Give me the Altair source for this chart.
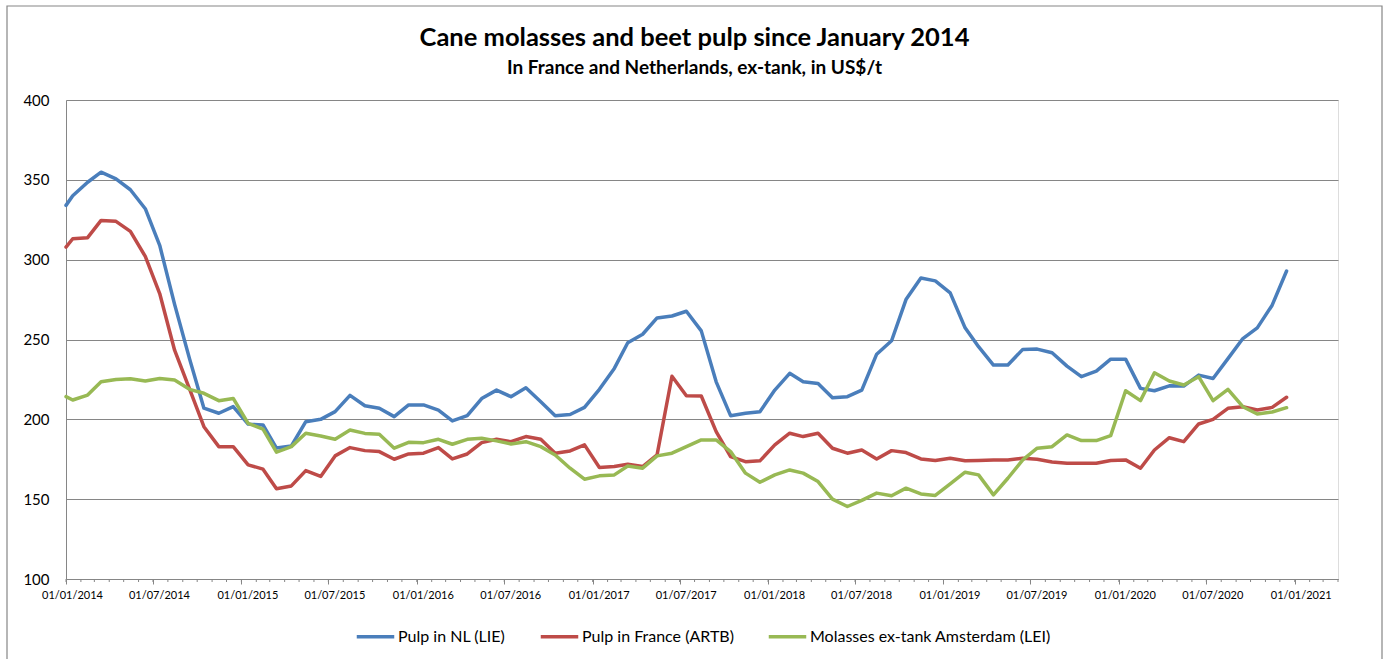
import altair as alt
import pandas as pd

# ---- data ----
series_names = ["Pulp in NL (LIE)", "Pulp in France (ARTB)", "Molasses ex-tank Amsterdam (LEI)"]
series_colors = ["#4A7EBB", "#BE4B48", "#98B954"]

title_text = "Cane molasses and beet pulp since January 2014"
subtitle_text = "In France and Netherlands, ex-tank, in US$/t"

dates = ["2014-01-01"] + [f"{y}-{m:02d}-15" for y in range(2014, 2021) for m in range(1, 13)]

pulp_nl = [334, 340, 348.5, 354.8, 350.6, 343.8, 331.9, 309, 272, 238,
           207, 203.8, 208, 197, 196.5, 182, 183.3, 198.5, 200, 204.8,
           215, 208.5, 206.9, 201.7, 209, 209, 205.8, 199, 202.3, 213,
           218.3, 214.2, 219.8, 211, 202.3, 203, 207.5, 218.8, 231.9, 248,
           253.3, 263.5, 264.7, 267.7, 255.4, 223.5, 202.3, 203.8, 204.8, 218.3,
           228.8, 223.5, 222.5, 213.5, 214.2, 218.3, 240.8, 249.2, 275, 288.5,
           286.7, 279.2, 257.3, 245.5, 234, 234, 243.8, 244, 241.7, 233.3,
           226.7, 230.2, 237.7, 237.7, 219.4, 217.9, 221, 220.8, 227.7, 225.6,
           238, 250.6, 257.3, 271.5, 292.9]

pulp_fr = [307.9, 313.1, 313.8, 324.6, 324, 317.7, 302, 278.8, 243.3, 219,
           195.4, 182.9, 182.9, 171.5, 168.8, 156.5, 158.3, 167.9, 164.2, 177.1,
           182.3, 180.4, 179.8, 175, 178.3, 178.8, 182.3, 175.2, 178.3, 185.4,
           187.5, 186, 189.2, 187.5, 178.8, 180.2, 184, 169.8, 170.4, 171.9,
           170.4, 177.7, 227, 214.8, 214.6, 192.3, 176.7, 173.5, 174, 184,
           191.3, 189.2, 191.3, 181.9, 178.8, 180.8, 175.2, 180.4, 179.2, 175.2,
           174.2, 175.6, 174, 174.2, 174.6, 174.6, 175.6, 175, 173.3, 172.5,
           172.5, 172.5, 174.2, 174.6, 169.4, 180.8, 188.5, 186, 197.1, 200,
           206.9, 207.9, 205.8, 207.5, 213.8]

molasses = [214.2, 212.1, 215.2, 223.5, 225, 225.4, 224, 225.6, 224.6, 218.8,
            216.3, 211.7, 213.1, 197.5, 193.8, 179.4, 182.9, 191.3, 189.6, 187.5,
            193.3, 191.2, 190.6, 181.9, 185.6, 185.4, 187.5, 184.4, 187.5, 188.1,
            186.5, 184.6, 186, 182.9, 177.7, 169.4, 162.5, 164.6, 165.2, 170.8,
            169.4, 177.1, 178.8, 182.9, 187.1, 187.1, 179.8, 166.3, 160.6, 165.2,
            168.3, 166.3, 161, 150, 145.4, 149.2, 153.8, 152.1, 156.9, 153.3,
            152.3, 159.6, 166.9, 165.2, 152.7, 163.1, 174.6, 181.9, 182.9, 190.2,
            186.7, 186.7, 189.8, 217.9, 211.7, 229.2, 224, 221.5, 226.7, 211.7,
            218.8, 207.9, 203.3, 204.6, 207.3]

y_ticks = [100, 150, 200, 250, 300, 350, 400]
x_label_dates = [(y, m) for y in range(2014, 2022) for m in (1, 7)][:15]
minor_tick_dates = [f"{y}-{m:02d}-01" for y in range(2014, 2022) for m in range(1, 13)][:88]

# ---- build table ----
rows = []
for name, vals in zip(series_names, [pulp_nl, pulp_fr, molasses]):
    for d, v in zip(dates, vals):
        rows.append({"date": d, "value": v, "series": name})
df = pd.DataFrame(rows)
minor_df = pd.DataFrame({"date": minor_tick_dates})
one = pd.DataFrame({"k": [0]})

FONT = "Lato"
GRID = "#868686"

x_scale = alt.Scale(type="utc",
                    domain=[alt.DateTime(year=2014, month=1, date=1, utc=True),
                            alt.DateTime(year=2021, month=4, date=1, utc=True)])
y_scale = alt.Scale(domain=[100, 400], nice=False, zero=False)
color_scale = alt.Scale(domain=series_names, range=series_colors)

x_axis = alt.Axis(values=[alt.DateTime(year=y, month=m, date=1, utc=True) for y, m in x_label_dates],
                  format="%d/%m/%Y", title=None, grid=False,
                  labelFont=FONT, labelFontSize=11, labelColor="#000000",
                  labelOffset=6, labelPadding=5, labelAngle=0, labelFlush=False,
                  tickSize=5, tickColor=GRID, domainColor=GRID, labelOverlap=False)
y_axis = alt.Axis(values=y_ticks, title=None, grid=True, gridColor=GRID, gridWidth=1,
                  domainColor=GRID, ticks=False, labelFont=FONT, labelFontSize=15,
                  labelColor="#000000", labelPadding=17)

legend = alt.Legend(title=None, orient="none", direction="horizontal",
                    legendX=289, legendY=516,
                    symbolType="stroke", symbolSize=1406, symbolStrokeWidth=3.5,
                    labelFont=FONT, labelFontSize=16, labelColor="#000000", labelLimit=0,
                    labelOffset=2, columnPadding=27)

layers = []
for name in series_names:
    layers.append(
        alt.Chart(df).transform_filter(alt.datum.series == name)
        .mark_line(strokeWidth=3.5, strokeJoin="round", strokeCap="round")
        .encode(
            x=alt.X("date:T", scale=x_scale, axis=x_axis),
            y=alt.Y("value:Q", scale=y_scale, axis=y_axis),
            color=alt.Color("series:N", scale=color_scale, legend=legend),
        )
    )

minor_ticks = alt.Chart(minor_df).mark_rule(color=GRID, strokeWidth=1).encode(
    x=alt.X("date:T", scale=x_scale), y=alt.value(479), y2=alt.value(482))

frame = alt.Chart(one).mark_rect(
    fill="transparent", stroke=GRID, strokeWidth=1.2).encode(
    x=alt.value(-59), x2=alt.value(1316), y=alt.value(-94), y2=alt.value(640))

title = alt.Chart(one).mark_text(
    text=title_text, font=FONT, fontSize=25.5, fontWeight="bold", color="#000000",
    align="center", baseline="alphabetic").encode(x=alt.value(628.5), y=alt.value(-54))
subtitle = alt.Chart(one).mark_text(
    text=subtitle_text, font=FONT, fontSize=19, fontWeight="bold", color="#000000",
    align="center", baseline="alphabetic").encode(x=alt.value(628.5), y=alt.value(-26))

chart = alt.layer(frame, minor_ticks, *layers, title, subtitle).properties(
    width=1272, height=479,
    padding={"left": 66, "top": 100, "right": 51, "bottom": 80},
    autosize=alt.AutoSizeParams(type="none"),
).configure_view(stroke=None).configure(background="white")

chart.save("out.html", embed_options={"renderer": "svg", "actions": False})
